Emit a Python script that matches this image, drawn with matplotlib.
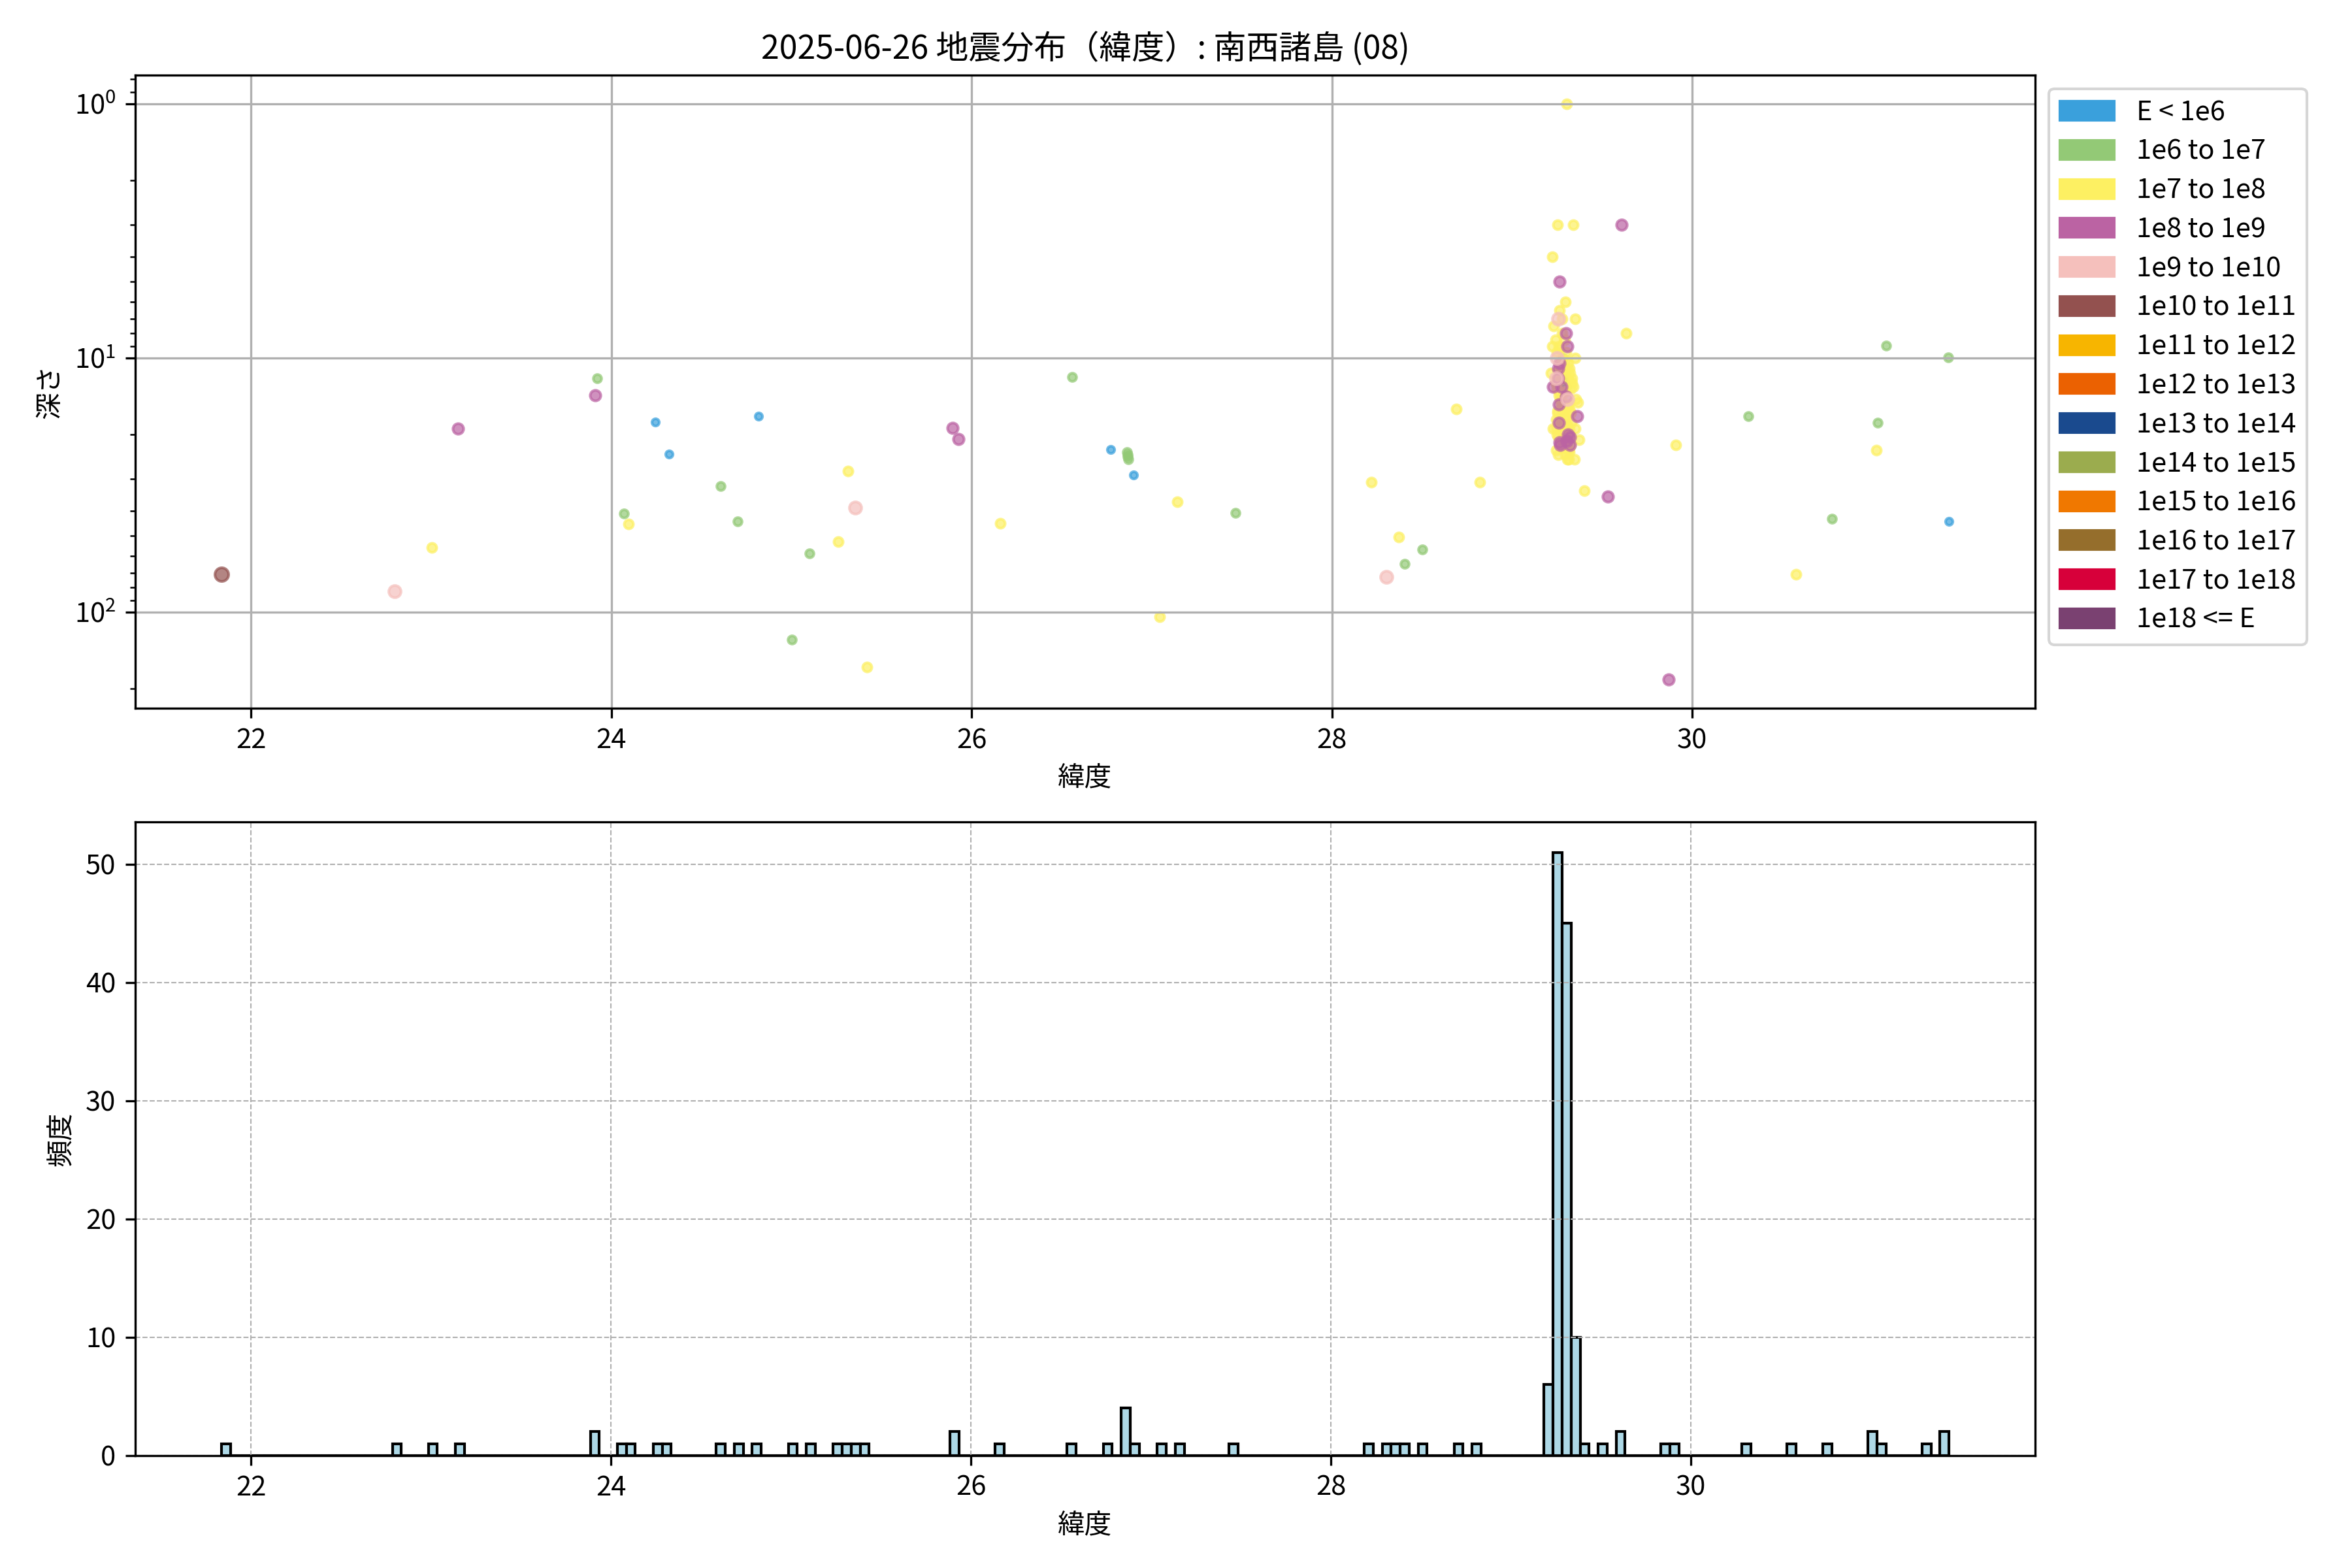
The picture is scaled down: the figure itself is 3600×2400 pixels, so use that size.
import numpy as np
import matplotlib
matplotlib.use('Agg')
import matplotlib.pyplot as plt
from matplotlib.patches import Patch

plt.rcParams['font.family'] = ['Noto Sans CJK JP', 'DejaVu Sans']
plt.rcParams['mathtext.fontset'] = 'custom'
plt.rcParams['mathtext.rm'] = 'Noto Sans CJK JP'

title = '2025-06-26 地震分布（緯度）: 南西諸島 (08)'

energy_labels = ['E < 1e6', '1e6 to 1e7', '1e7 to 1e8', '1e8 to 1e9', '1e9 to 1e10',
                 '1e10 to 1e11', '1e11 to 1e12', '1e12 to 1e13', '1e13 to 1e14',
                 '1e14 to 1e15', '1e15 to 1e16', '1e16 to 1e17', '1e17 to 1e18',
                 '1e18 <= E']
energy_colors = ['#3aa0dc', '#93c976', '#fdf062', '#bb63a3', '#f5c0bc', '#93514f',
                 '#f7b500', '#eb6101', '#1a4a8e', '#9bac4e', '#f07800', '#956e2c',
                 '#d7003a', '#7a4171']
marker_size = [7, 9, 11, 15, 20, 25, 30, 35, 40, 45, 50, 55, 60, 65]

# 散在する震源 (緯度, 深さ km, エネルギー階級)
lat_outer = [21.835, 22.795, 23.005, 23.15, 23.92, 23.91, 24.07, 24.095, 24.245, 24.32,
             24.605, 24.70, 24.815, 25.00, 25.10, 25.26, 25.315, 25.355, 25.42, 25.895,
             25.925, 26.16, 26.556, 26.77, 26.862, 26.864, 26.866, 26.868, 26.90, 27.045,
             27.14, 27.465, 28.22, 28.30, 28.37, 28.405, 28.50, 28.69, 28.82,
             29.40, 29.53, 29.606, 29.632, 29.87, 29.91, 30.31, 30.575, 30.775, 31.02,
             31.03, 31.075, 31.31, 31.42, 31.425]
depth_outer = [70.8, 83, 55.7, 19.0, 12.0, 14.0, 41, 45, 17.9, 23.9,
               32, 44, 17.0, 128, 58.9, 52.9, 27.9, 38.9, 165, 18.9,
               20.9, 44.8, 11.9, 22.9, 23.5, 24.0, 24.5, 25.0, 28.9, 104,
               36.9, 40.8, 30.9, 72.8, 50.8, 64.7, 56.8, 15.9, 30.9,
               33.2, 35.1, 3.0, 8.0, 184, 22, 17, 71.1, 43, 23,
               18, 8.97, np.nan, 9.97, 44]
cls_outer = [5, 4, 2, 3, 1, 3, 1, 2, 0, 0,
             1, 1, 0, 1, 1, 2, 2, 4, 2, 3,
             3, 2, 1, 0, 1, 1, 1, 1, 0, 2,
             2, 1, 2, 4, 2, 1, 1, 2, 2,
             2, 3, 3, 2, 3, 2, 1, 2, 1, 2,
             1, 1, 1, 1, 0]

# 北緯29.2-29.4度付近の群発
lat_cluster = [29.222, 29.222, 29.225, 29.215, 29.228, 29.230,
               29.251, 29.262, 29.255, 29.278, 29.278, 29.258, 29.250, 29.280, 29.256, 29.268,
               29.255, 29.245, 29.280, 29.270, 29.275, 29.260, 29.270, 29.275, 29.245, 29.270,
               29.265, 29.240, 29.248, 29.262, 29.272, 29.242, 29.258, 29.266, 29.276, 29.252,
               29.244, 29.260, 29.268, 29.274, 29.250, 29.256, 29.264, 29.278, 29.246, 29.254,
               29.262, 29.270, 29.258, 29.266, 29.248, 29.274, 29.260, 29.252, 29.268, 29.276,
               29.263,
               29.304, 29.296, 29.300, 29.308, 29.290, 29.300, 29.318, 29.330, 29.292, 29.310,
               29.320, 29.296, 29.305, 29.315, 29.325, 29.290, 29.300, 29.310, 29.320, 29.330,
               29.295, 29.305, 29.315, 29.325, 29.292, 29.302, 29.312, 29.322, 29.298, 29.308,
               29.318, 29.328, 29.294, 29.304, 29.314, 29.324, 29.300, 29.310, 29.320, 29.296,
               29.306, 29.316, 29.326, 29.302, 29.312,
               29.338, 29.350, 29.350, 29.340, 29.355, 29.365, 29.360, 29.350, 29.370, 29.345]
depth_cluster = [4.0, 9.0, 19.0, 11.5, 13.0, 7.5,
                 3.0, 5.0, 7.0, 7.0, 8.0, 9.0, 10.0, 10.0, 11.0, 11.0,
                 12.0, 12.0, 12.0, 13.0, 13.0, 14.0, 15.0, 16.0, 19.0, 21.0,
                 22.0, 8.5, 9.5, 10.5, 11.5, 12.5, 13.5, 14.5, 15.5, 16.5,
                 17.5, 18.0, 18.5, 19.5, 20.0, 20.5, 21.5, 22.5, 23.0, 24.0,
                 9.2, 10.2, 11.2, 12.2, 13.2, 14.2, 15.2, 16.2, 17.2, 18.2,
                 6.5,
                 1.0, 6.0, 8.0, 9.0, 11.0, 13.0, 11.0, 12.0, 16.0, 20.0,
                 22.0, 24.0, 25.0, 25.0, 22.0, 8.5, 9.5, 10.5, 11.5, 12.5,
                 13.5, 14.5, 15.5, 16.5, 17.5, 18.5, 19.5, 20.5, 21.5, 22.5,
                 23.5, 18.0, 10.2, 11.2, 12.2, 13.2, 14.2, 15.2, 16.2, 17.2,
                 18.2, 19.2, 20.2, 21.2, 23.0,
                 3.0, 7.0, 10.0, 13.0, 14.5, 15.0, 17.0, 19.0, 21.0, 25.0]
cls_cluster = [2, 2, 2, 2, 3, 2,
               2, 3, 4, 2, 2, 2, 4, 1, 3, 2,
               3, 4, 1, 1, 3, 2, 2, 2, 2, 2,
               3, 2, 2, 3, 2, 2, 2, 2, 2, 2,
               2, 3, 2, 2, 2, 2, 3, 2, 2, 2,
               2, 2, 2, 2, 2, 2, 3, 2, 2, 2,
               2,
               2, 2, 3, 3, 2, 1, 2, 2, 2, 3,
               3, 2, 2, 2, 2, 2, 2, 2, 2, 2,
               2, 4, 2, 2, 2, 2, 2, 3, 2, 2,
               2, 2, 2, 2, 2, 2, 3, 2, 2, 2,
               2, 2, 2, 3, 2,
               2, 2, 2, 2, 2, 2, 3, 2, 2, 2]

lat = np.array(lat_outer + lat_cluster)
depth = np.array(depth_outer + depth_cluster, dtype=float)
cls = np.array(cls_outer + cls_cluster)

fig, (ax1, ax2) = plt.subplots(2, 1, figsize=(12, 8), dpi=300)
fig.subplots_adjust(left=0.0574, right=0.8654, top=0.9522, bottom=0.0718, hspace=0.18)

# 上段: 緯度-深さ
ok = np.isfinite(depth)
for k in range(len(energy_labels)):
    m = ok & (cls == k)
    if m.any():
        ax1.scatter(lat[m], depth[m], s=marker_size[k], c=energy_colors[k], alpha=0.7)
ax1.set_yscale('log')
ax1.invert_yaxis()
ax1.set_title(title)
ax1.set_xlabel('緯度')
ax1.set_ylabel('深さ')
ax1.grid(True)
handles = [Patch(color=c, label=l) for c, l in zip(energy_colors, energy_labels)]
ax1.legend(handles=handles, loc='upper left', bbox_to_anchor=(1, 1), labelspacing=0.45)

# 下段: 緯度の頻度
bins = np.arange(lat.min(), lat.max() + 0.05, 0.05)
ax2.hist(lat, bins=bins, color='lightblue', edgecolor='black')
ax2.set_xlabel('緯度')
ax2.set_ylabel('頻度')
ax2.grid(True, linestyle='--', linewidth=0.5)

fig.savefig('out.png', dpi=300)
